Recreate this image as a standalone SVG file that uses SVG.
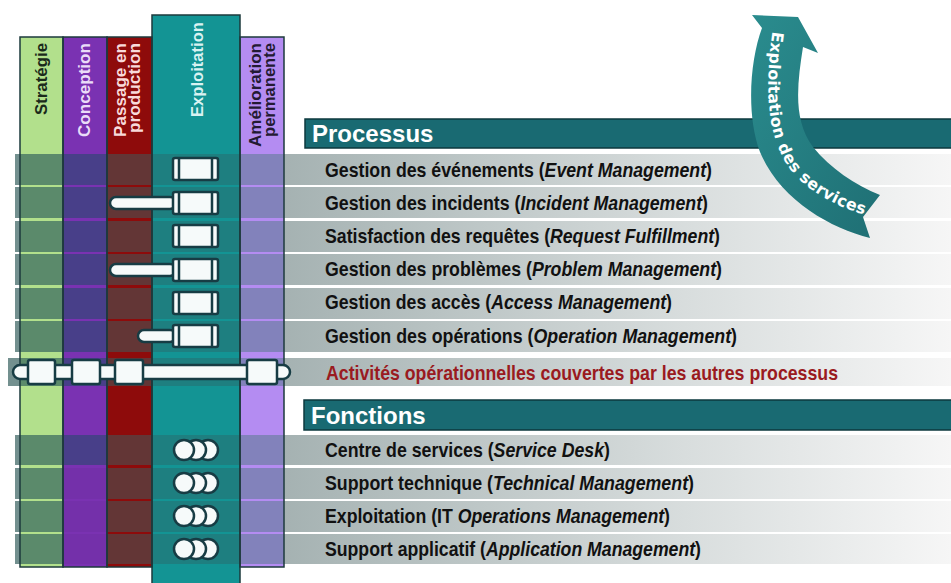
<svg xmlns="http://www.w3.org/2000/svg" xmlns:xlink="http://www.w3.org/1999/xlink" width="951" height="583" viewBox="0 0 951 583">
<style>
.row-t{font-family:"Liberation Sans Narrow","Liberation Sans",Arial,sans-serif;font-weight:bold;font-size:21px;fill:#111;}
.act-t{font-family:"Liberation Sans Narrow","Liberation Sans",Arial,sans-serif;font-weight:bold;font-size:21px;fill:#9a1a20;}
.hdr-t{font-family:"Liberation Sans",Arial,sans-serif;font-weight:bold;font-size:24px;fill:#fff;}
.col-t{font-family:"Liberation Sans",Arial,sans-serif;font-weight:bold;font-size:17px;}
.arrow-t{font-family:"DejaVu Sans",Verdana,sans-serif;font-weight:bold;font-size:16px;fill:#fff;}
.ic{fill:#f6fafa;stroke:#173c44;stroke-width:2.5;}
.icl{stroke:#173c44;stroke-width:2.5;}
.outline{fill:none;stroke:#1d3a3c;stroke-width:1.5;}
.hdr{fill:#196a72;stroke:#0c383e;stroke-width:1.5;}
.row{fill:url(#rowPat);}
</style>
<defs>
<linearGradient id="rowGrad" gradientUnits="userSpaceOnUse" x1="284" y1="0" x2="951" y2="0">
<stop offset="0" stop-color="#a5b2b2"/>
<stop offset="0.6" stop-color="#d8dddd"/>
<stop offset="1" stop-color="#f6f6f6"/>
</linearGradient>
<linearGradient id="arrowGrad" x1="0" y1="0" x2="1" y2="1">
<stop offset="0" stop-color="#2a8c8e"/>
<stop offset="1" stop-color="#1f6f74"/>
</linearGradient>
<pattern id="rowPat" patternUnits="userSpaceOnUse" x="0" y="0" width="951" height="583">
<rect x="8" y="0" width="12" height="583" fill="#73908f"/>
<rect x="20" y="0" width="43" height="583" fill="#5b8a6b"/>
<rect x="63" y="0" width="44" height="583" fill="#483f89"/>
<rect x="107" y="0" width="45" height="583" fill="#633636"/>
<rect x="152" y="0" width="88" height="583" fill="#1e7f80"/>
<rect x="240" y="0" width="44" height="583" fill="#8282bb"/>
<rect x="284" y="0" width="667" height="583" fill="url(#rowGrad)"/>
</pattern>
<path id="arrowPath" d="M 779 28 C 770 90, 772 140, 800 172 C 822 193, 848 205, 878 212"/>
</defs>

<rect x="0" y="0" width="951" height="583" fill="#ffffff"/>

<!-- columns -->
<g id="columns">
<rect x="20" y="37" width="43" height="530" fill="#b2e08c"/>
<rect x="63" y="37" width="44" height="530" fill="#7a32b2"/>
<rect x="107" y="37" width="45" height="530" fill="#8e0b0b"/>
<rect x="152" y="15" width="88" height="568" fill="#139494"/>
<rect x="240" y="37" width="44" height="530" fill="#b48cf2"/>
</g>

<!-- headers -->
<g id="hdr-processus">
<rect class="hdr" x="305" y="119" width="650" height="29"/>
<text class="hdr-t" x="312" y="142">Processus</text>
</g>
<g id="hdr-fonctions">
<rect class="hdr" x="304" y="400" width="651" height="30"/>
<text class="hdr-t" x="311" y="424">Fonctions</text>
</g>

<!-- process rows -->
<g id="row-event"><rect class="row" x="15" y="154" width="936" height="31"/>
<text class="row-t" x="325" y="177" textLength="387" lengthAdjust="spacingAndGlyphs">Gestion des événements (<tspan font-style="italic">Event Management</tspan>)</text></g>
<g id="row-incident"><rect class="row" x="15" y="187" width="936" height="31"/>
<text class="row-t" x="325" y="210" textLength="383" lengthAdjust="spacingAndGlyphs">Gestion des incidents (<tspan font-style="italic">Incident Management</tspan>)</text></g>
<g id="row-request"><rect class="row" x="15" y="221" width="936" height="31"/>
<text class="row-t" x="325" y="243" textLength="395" lengthAdjust="spacingAndGlyphs">Satisfaction des requêtes (<tspan font-style="italic">Request Fulfillment</tspan>)</text></g>
<g id="row-problem"><rect class="row" x="15" y="254" width="936" height="31"/>
<text class="row-t" x="325" y="276" textLength="397" lengthAdjust="spacingAndGlyphs">Gestion des problèmes (<tspan font-style="italic">Problem Management</tspan>)</text></g>
<g id="row-access"><rect class="row" x="15" y="288" width="936" height="31"/>
<text class="row-t" x="325" y="309" textLength="347" lengthAdjust="spacingAndGlyphs">Gestion des accès (<tspan font-style="italic">Access Management</tspan>)</text></g>
<g id="row-operation"><rect class="row" x="15" y="321" width="936" height="31"/>
<text class="row-t" x="325" y="343" textLength="412" lengthAdjust="spacingAndGlyphs">Gestion des opérations (<tspan font-style="italic">Operation Management</tspan>)</text></g>

<!-- activity row -->
<g id="row-activites"><rect class="row" x="8" y="358" width="943" height="28"/>
<text class="act-t" x="326" y="380" textLength="512" lengthAdjust="spacingAndGlyphs">Activités opérationnelles couvertes par les autres processus</text></g>

<!-- function rows -->
<g id="row-servicedesk"><rect class="row" x="15" y="435" width="936" height="30"/>
<text class="row-t" x="325" y="457" textLength="285" lengthAdjust="spacingAndGlyphs">Centre de services (<tspan font-style="italic">Service Desk</tspan>)</text></g>
<g id="row-technical"><rect class="row" x="15" y="468" width="936" height="31"/>
<rect x="63" y="468" width="44" height="31" fill="#7430aa"/>
<text class="row-t" x="325" y="490" textLength="369" lengthAdjust="spacingAndGlyphs">Support technique (<tspan font-style="italic">Technical Management</tspan>)</text></g>
<g id="row-itops"><rect class="row" x="15" y="501" width="936" height="31"/>
<rect x="63" y="501" width="44" height="31" fill="#7430aa"/>
<text class="row-t" x="325" y="523" textLength="345" lengthAdjust="spacingAndGlyphs">Exploitation (IT <tspan font-style="italic">Operations Management</tspan>)</text></g>
<g id="row-application"><rect class="row" x="15" y="534" width="936" height="30"/>
<rect x="63" y="534" width="44" height="30" fill="#7430aa"/>
<text class="row-t" x="325" y="556" textLength="376" lengthAdjust="spacingAndGlyphs">Support applicatif (<tspan font-style="italic">Application Management</tspan>)</text></g>

<!-- column outlines and titles -->
<g id="column-outlines">
<rect class="outline" x="20" y="37" width="43" height="530"/>
<rect class="outline" x="63" y="37" width="44" height="530"/>
<rect class="outline" x="107" y="37" width="45" height="530"/>
<rect class="outline" x="240" y="37" width="44" height="530"/>
<rect class="outline" x="152" y="15" width="88" height="570"/>
</g>
<g id="column-titles">
<text class="col-t" fill="#1b2a1a" text-anchor="end" transform="translate(47,43) rotate(-90)" textLength="72" lengthAdjust="spacingAndGlyphs">Stratégie</text>
<text class="col-t" fill="#eadcf8" text-anchor="end" transform="translate(90,43) rotate(-90)" textLength="94" lengthAdjust="spacingAndGlyphs">Conception</text>
<text class="col-t" fill="#f8dada" text-anchor="end" transform="translate(126,43) rotate(-90)" textLength="94" lengthAdjust="spacingAndGlyphs">Passage en</text>
<text class="col-t" fill="#f8dada" text-anchor="end" transform="translate(140,43) rotate(-90)" textLength="90" lengthAdjust="spacingAndGlyphs">production</text>
<text class="col-t" fill="#d8f2f2" text-anchor="end" transform="translate(203,22) rotate(-90)" textLength="95" lengthAdjust="spacingAndGlyphs">Exploitation</text>
<text class="col-t" fill="#231a33" text-anchor="end" transform="translate(261,43) rotate(-90)" textLength="104" lengthAdjust="spacingAndGlyphs">Amélioration</text>
<text class="col-t" fill="#231a33" text-anchor="end" transform="translate(275,43) rotate(-90)" textLength="94" lengthAdjust="spacingAndGlyphs">permanente</text>
</g>

<!-- process icons -->
<g id="icons-process">
<rect class="ic" x="110" y="197" width="66" height="12" rx="6"/>
<rect class="ic" x="110" y="264" width="66" height="12" rx="6"/>
<rect class="ic" x="138" y="330" width="38" height="12" rx="6"/>
<g id="cap1"><rect class="ic" x="173" y="158" width="45" height="22" rx="2"/><line class="icl" x1="179" y1="158" x2="179" y2="180"/><line class="icl" x1="212" y1="158" x2="212" y2="180"/></g>
<g id="cap2"><rect class="ic" x="173" y="192" width="45" height="22" rx="2"/><line class="icl" x1="179" y1="192" x2="179" y2="214"/><line class="icl" x1="212" y1="192" x2="212" y2="214"/></g>
<g id="cap3"><rect class="ic" x="173" y="225" width="45" height="22" rx="2"/><line class="icl" x1="179" y1="225" x2="179" y2="247"/><line class="icl" x1="212" y1="225" x2="212" y2="247"/></g>
<g id="cap4"><rect class="ic" x="173" y="259" width="45" height="22" rx="2"/><line class="icl" x1="179" y1="259" x2="179" y2="281"/><line class="icl" x1="212" y1="259" x2="212" y2="281"/></g>
<g id="cap5"><rect class="ic" x="173" y="292" width="45" height="22" rx="2"/><line class="icl" x1="179" y1="292" x2="179" y2="314"/><line class="icl" x1="212" y1="292" x2="212" y2="314"/></g>
<g id="cap6"><rect class="ic" x="173" y="325" width="45" height="22" rx="2"/><line class="icl" x1="179" y1="325" x2="179" y2="347"/><line class="icl" x1="212" y1="325" x2="212" y2="347"/></g>
</g>

<!-- activity capsule -->
<g id="icon-activites">
<rect class="ic" x="13" y="365" width="277" height="14" rx="7"/>
<rect class="ic" x="28" y="360" width="27" height="24" rx="2"/>
<rect class="ic" x="72" y="360" width="28" height="24" rx="2"/>
<rect class="ic" x="115" y="360" width="28" height="24" rx="2"/>
<rect class="ic" x="247" y="360" width="30" height="24" rx="2"/>
</g>

<!-- function icons -->
<g id="icons-functions">
<circle class="ic" cx="208" cy="450" r="10"/><circle class="ic" cx="196" cy="450" r="10"/><circle class="ic" cx="184" cy="450" r="10"/>
<circle class="ic" cx="208" cy="483" r="10"/><circle class="ic" cx="196" cy="483" r="10"/><circle class="ic" cx="184" cy="483" r="10"/>
<circle class="ic" cx="208" cy="516" r="10"/><circle class="ic" cx="196" cy="516" r="10"/><circle class="ic" cx="184" cy="516" r="10"/>
<circle class="ic" cx="208" cy="549" r="10"/><circle class="ic" cx="196" cy="549" r="10"/><circle class="ic" cx="184" cy="549" r="10"/>
</g>

<!-- curved arrow -->
<g id="arrow-exploitation">
<path d="M 752 15 L 798 17 L 818 53 L 803 47 C 797 85, 793 120, 813 147 C 830 168, 855 185, 880 195 L 863 217 L 870 238 C 830 228, 780 200, 760 152 C 746 115, 750 60, 762 28 Z" fill="url(#arrowGrad)"/>
<text class="arrow-t" dy="6"><textPath href="#arrowPath" xlink:href="#arrowPath" startOffset="4" textLength="222" lengthAdjust="spacingAndGlyphs">Exploitation des services</textPath></text>
</g>
</svg>
